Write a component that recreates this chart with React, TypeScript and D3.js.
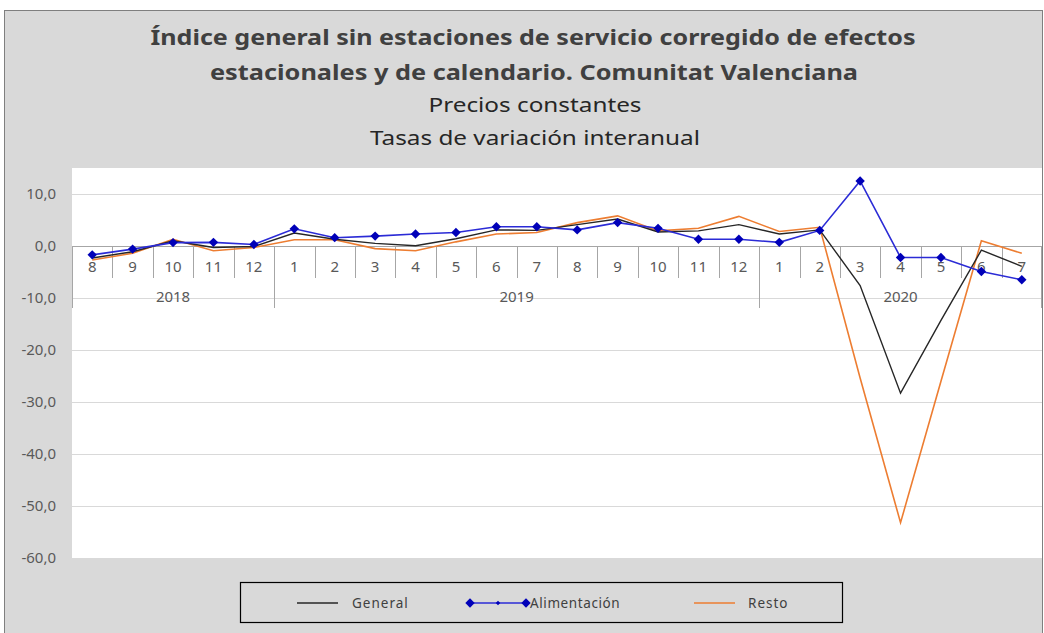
import React from "react";
import * as d3 from "d3";

// months shown on the first axis row
const months = [
  "8", "9", "10", "11", "12",
  "1", "2", "3", "4", "5", "6", "7", "8", "9", "10", "11", "12",
  "1", "2", "3", "4", "5", "6", "7",
];
const yearLabels = ["2018", "2019", "2020"];
const yearMonthCounts = [5, 12, 7];

const general = [
  -2.3, -1.1, 1.0, -0.3, -0.1, 2.5, 1.3, 0.5, 0.05, 1.4, 3.1, 3.0, 4.1, 5.2,
  2.7, 2.9, 4.1, 2.3, 3.1, -7.6, -28.3, -14.3, -0.8, -3.9,
];
const alimentacion = [
  -1.7, -0.6, 0.65, 0.7, 0.3, 3.3, 1.6, 1.9, 2.3, 2.6, 3.7, 3.7, 3.1, 4.5,
  3.4, 1.3, 1.3, 0.7, 3.0, 12.5, -2.2, -2.2, -4.9, -6.5,
];
const resto = [
  -2.7, -1.4, 1.3, -0.9, -0.3, 1.2, 1.2, -0.5, -0.9, 0.8, 2.3, 2.6, 4.5, 5.8,
  2.9, 3.4, 5.7, 2.8, 3.6, -25.4, -53.2, -26.0, 1.0, -1.4,
];
const yTicks = [10, 0, -10, -20, -30, -40, -50, -60];

const titleLines = [
  "Índice general sin estaciones de servicio corregido de efectos",
  "estacionales y de calendario. Comunitat Valenciana",
];
const subtitleLines = ["Precios constantes", "Tasas de variación interanual"];

const W = 1044;
const H = 633;
const plot = { left: 72, right: 1042, top: 168, bottom: 558 };
const font = "'Noto Sans', 'Open Sans', sans-serif";
const textColor = "#595959";

export default function App() {
  const idx = months.map((_, i) => String(i));
  const x = d3
    .scaleBand<string>()
    .domain(idx)
    .range([plot.left, plot.right])
    .padding(0);
  const y = d3.scaleLinear().domain([-60, 15]).range([plot.bottom, plot.top]);
  const cx = (i: number) => (x(String(i)) as number) + x.bandwidth() / 2;

  const line = d3
    .line<number>()
    .x((_, i) => cx(i))
    .y((d) => y(d));

  const fmt = (v: number) => d3.format(".1f")(v).replace(".", ",").replace("−", "-");
  // excel-like diamond: a square turned 45 degrees
  const diamond = d3.symbol().type(d3.symbolSquare).size(44)() as string;
  const smallDiamond = d3.symbol().type(d3.symbolSquare).size(10)() as string;

  const y0 = y(0);

  // year group boundaries (in band index)
  const bounds: number[] = [0];
  yearMonthCounts.forEach((c, i) => bounds.push(bounds[i] + c));

  return (
    <div style={{ position: "fixed", left: 0, top: 0 }}>
      <svg width={W} height={H} style={{ display: "block" }}>
        <rect x={0} y={0} width={W} height={H} fill="#ffffff" />
        <rect
          x={4.5}
          y={10.5}
          width={1038}
          height={630}
          fill="#d9d9d9"
          stroke="#7f7f7f"
          strokeWidth={1}
        />
        {/* titles */}
        <text
          x={533}
          y={45}
          textAnchor="middle"
          fontFamily={font}
          fontWeight="bold"
          fontSize={21}
          fill="#404040"
          textLength={765}
          lengthAdjust="spacingAndGlyphs"
        >
          {titleLines[0]}
        </text>
        <text
          x={534}
          y={80}
          textAnchor="middle"
          fontFamily={font}
          fontWeight="bold"
          fontSize={21}
          fill="#404040"
          textLength={648}
          lengthAdjust="spacingAndGlyphs"
        >
          {titleLines[1]}
        </text>
        <text
          x={535}
          y={112}
          textAnchor="middle"
          fontFamily={font}
          fontSize={19}
          fill="#262626"
          textLength={213}
          lengthAdjust="spacingAndGlyphs"
        >
          {subtitleLines[0]}
        </text>
        <text
          x={535}
          y={145}
          textAnchor="middle"
          fontFamily={font}
          fontSize={19}
          fill="#262626"
          textLength={330}
          lengthAdjust="spacingAndGlyphs"
        >
          {subtitleLines[1]}
        </text>

        {/* plot area */}
        <rect
          x={plot.left}
          y={plot.top}
          width={plot.right - plot.left}
          height={plot.bottom - plot.top}
          fill="#ffffff"
        />
        {yTicks.map((t) => (
          <line
            key={"g" + t}
            x1={plot.left}
            x2={plot.right}
            y1={Math.round(y(t)) + 0.5}
            y2={Math.round(y(t)) + 0.5}
            stroke="#d9d9d9"
            strokeWidth={1}
          />
        ))}
        {yTicks.map((t) => (
          <text
            key={"t" + t}
            x={56}
            y={y(t) + 5}
            textAnchor="end"
            fontFamily={font}
            fontSize={15}
            fill={textColor}
          >
            {fmt(t)}
          </text>
        ))}

        {/* category axis at zero */}
        <line
          x1={plot.left}
          x2={plot.right}
          y1={Math.round(y0) + 0.5}
          y2={Math.round(y0) + 0.5}
          stroke="#a6a6a6"
        />
        {months.map((_, i) => {
          const bx = Math.round(x(String(i)) as number) + 0.5;
          const isYear = bounds.includes(i);
          return (
            <line
              key={"tk" + i}
              x1={bx}
              x2={bx}
              y1={y0}
              y2={isYear ? y0 + 62 : y0 + 32}
              stroke="#a6a6a6"
            />
          );
        })}
        <line
          x1={plot.right - 0.5}
          x2={plot.right - 0.5}
          y1={y0}
          y2={y0 + 62}
          stroke="#a6a6a6"
        />
        {months.map((m, i) => (
          <text
            key={"m" + i}
            x={cx(i)}
            y={y0 + 26}
            textAnchor="middle"
            fontFamily={font}
            fontSize={15}
            fill={textColor}
          >
            {m}
          </text>
        ))}
        {yearLabels.map((yl, k) => {
          const a = x(String(bounds[k])) as number;
          const b = bounds[k + 1] < months.length ? (x(String(bounds[k + 1])) as number) : plot.right;
          return (
            <text
              key={yl}
              x={(a + b) / 2}
              y={y0 + 56}
              textAnchor="middle"
              fontFamily={font}
              fontSize={15}
              fill={textColor}
            >
              {yl}
            </text>
          );
        })}

        {/* series */}
        <path d={line(resto) as string} fill="none" stroke="#ed7d31" strokeWidth={1.6} />
        <path d={line(general) as string} fill="none" stroke="#262626" strokeWidth={1.4} />
        <path d={line(alimentacion) as string} fill="none" stroke="#2b2bd6" strokeWidth={1.6} />
        {alimentacion.map((v, i) => (
          <path
            key={"d" + i}
            d={diamond}
            transform={`translate(${cx(i)},${y(v)}) rotate(45)`}
            fill="#0000b8"
          />
        ))}

        {/* legend */}
        <rect x={240.5} y={582.5} width={602} height={40} fill="#d9d9d9" stroke="#000000" strokeWidth={1.2} />
        <line x1={297} x2={338} y1={603} y2={603} stroke="#262626" strokeWidth={1.4} />
        <text x={352} y={608} fontFamily={font} fontSize={13.5} letterSpacing={1} fill="#404040">
          General
        </text>
        <line x1={470} x2={526} y1={603} y2={603} stroke="#2b2bd6" strokeWidth={1.6} />
        <path d={diamond} transform="translate(470,603) rotate(45)" fill="#0000b8" />
        <path d={smallDiamond} transform="translate(498,603) rotate(45)" fill="#0000b8" />
        <path d={diamond} transform="translate(526,603) rotate(45)" fill="#0000b8" />
        <text x={530} y={608} fontFamily={font} fontSize={13.5} letterSpacing={0.6} fill="#404040">
          Alimentación
        </text>
        <line x1={694} x2={735} y1={603} y2={603} stroke="#ed7d31" strokeWidth={1.6} />
        <text x={748} y={608} fontFamily={font} fontSize={13.5} letterSpacing={1} fill="#404040">
          Resto
        </text>
      </svg>
    </div>
  );
}
